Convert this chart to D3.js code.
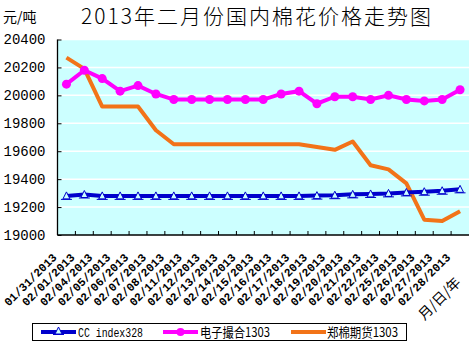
<!DOCTYPE html>
<html><head><meta charset="utf-8">
<script src="https://cdn.jsdelivr.net/npm/d3@7"></script>
<style>body{margin:0;background:#fff}svg{display:block}</style>
</head><body>
<script>
const title = "2013年二月份国内棉花价格走势图";
const yUnit = "元/吨";
const xUnit = "月/日/年";
const dates = ["01/31/2013","02/01/2013","02/04/2013","02/05/2013","02/06/2013","02/07/2013","02/08/2013","02/11/2013","02/12/2013","02/13/2013","02/14/2013","02/15/2013","02/16/2013","02/17/2013","02/18/2013","02/19/2013","02/20/2013","02/21/2013","02/22/2013","02/25/2013","02/26/2013","02/27/2013","02/28/2013"];
const ccIndex = [19280,19290,19280,19280,19280,19280,19280,19280,19280,19280,19280,19280,19280,19280,19282,19285,19291,19294,19298,19305,19310,19317,19327];
const dianzi = [20080,20180,20120,20030,20070,20010,19970,19970,19970,19970,19970,19970,20010,20030,19940,19990,19990,19970,20000,19970,19960,19970,20040];
const zhengmian = [20270,20190,19920,19920,19920,19750,19650,19650,19650,19650,19650,19650,19650,19650,19630,19610,19670,19500,19470,19370,19110,19100,19170];
const yTicks = [19000,19200,19400,19600,19800,20000,20200,20400];
const seriesNames = ["CC index328","电子撮合1303","郑棉期货1303"];

const W=474,H=345;
const m={l:57.5,r:469,t:39.5,b:235};
const svg=d3.select("body").append("svg").attr("width",W).attr("height",H);
const x=d3.scaleBand().domain(dates).range([m.l,m.r]);
const y=d3.scaleLinear().domain([19000,20400]).range([m.b,m.t]);
const cx=d=>x(d)+x.bandwidth()/2;

svg.append("rect").attr("x",m.l).attr("y",m.t).attr("width",m.r-m.l).attr("height",m.b-m.t).attr("fill","#CCFFFF");
svg.append("g").selectAll("line").data(yTicks.slice(1)).join("line")
  .attr("x1",m.l).attr("x2",m.r).attr("y1",d=>y(d)).attr("y2",d=>y(d)).attr("stroke","#fff").attr("stroke-width",1.5);

// axes
const yAxis=d3.axisLeft(y).tickValues(yTicks).tickSize(-4).tickPadding(12).tickFormat(d3.format("d"));
const gy=svg.append("g").attr("transform",`translate(${m.l},0)`).call(yAxis);
gy.select(".domain").remove();
gy.selectAll("line").attr("stroke","#000");
gy.selectAll("text").attr("font-family","Liberation Mono").attr("font-size",14).attr("fill","#000");
svg.append("line").attr("x1",m.l).attr("x2",m.l).attr("y1",m.t).attr("y2",m.b).attr("stroke","#000").attr("stroke-width",1.3);
svg.append("line").attr("x1",m.l).attr("x2",m.r).attr("y1",m.b).attr("y2",m.b).attr("stroke","#000").attr("stroke-width",1.3);
svg.append("g").selectAll("line").data(dates.slice(1)).join("line")
  .attr("x1",d=>x(d)).attr("x2",d=>x(d)).attr("y1",m.b).attr("y2",m.b-4).attr("stroke","#000");

svg.append("g").selectAll("text").data(dates).join("text")
  .attr("transform",d=>`translate(${cx(d)-9},${m.b+23}) rotate(-45)`)
  .attr("text-anchor","end").attr("font-family","Liberation Mono").attr("font-weight","bold")
  .attr("font-size",11.5).text(d=>d);

svg.append("text").attr("x",257).attr("y",24).attr("text-anchor","middle").attr("letter-spacing",2)
  .attr("font-family","Noto Sans CJK SC").attr("font-weight",300).attr("font-size",21).text(title);
svg.append("text").attr("x",3).attr("y",22).attr("font-family","Noto Sans CJK SC").attr("font-size",14).text(yUnit);
svg.append("text").attr("transform","translate(443,302) rotate(-45)").attr("text-anchor","middle")
  .attr("font-family","Noto Sans CJK SC").attr("font-size",14).text(xUnit);

const line=d3.line().x((d,i)=>cx(dates[i])).y(d=>y(d));
const cols=["#0000CC","#FF00FF","#F27318"];
svg.append("path").datum(zhengmian).attr("d",line).attr("fill","none").attr("stroke",cols[2]).attr("stroke-width",4).attr("stroke-linejoin","round");
svg.append("path").datum(dianzi).attr("d",line).attr("fill","none").attr("stroke",cols[1]).attr("stroke-width",4);
svg.append("g").selectAll("circle").data(dianzi).join("circle")
  .attr("cx",(d,i)=>cx(dates[i])).attr("cy",d=>y(d)).attr("r",4.5).attr("fill",cols[1]);
svg.append("path").datum(ccIndex).attr("d",line).attr("fill","none").attr("stroke",cols[0]).attr("stroke-width",4);
function tri(g,px,py){
  g.append("path").attr("d",`M${px-3.5},${py+3}L${px},${py-4}L${px+3.5},${py+3}Z`).attr("fill","#CCFFFF").attr("stroke",cols[0]).attr("stroke-width",1);
  g.append("line").attr("x1",px-5.5).attr("x2",px+5.5).attr("y1",py+3.5).attr("y2",py+3.5).attr("stroke",cols[0]).attr("stroke-width",1);
}
const gm=svg.append("g");
ccIndex.forEach((d,i)=>tri(gm,cx(dates[i]),y(d)));

// legend
const lg=svg.append("g");
lg.append("rect").attr("x",32.5).attr("y",323.5).attr("width",374).attr("height",17).attr("fill","#fff").attr("stroke","#000");
const lx=[[41,76,78,65],[163,198,200,70],[291,326,327,71]];
seriesNames.forEach((n,i)=>{
  const [a,b,t,len]=lx[i];
  lg.append("line").attr("x1",a).attr("x2",b).attr("y1",332).attr("y2",332).attr("stroke",cols[i]).attr("stroke-width",4);
  if(i===1) lg.append("circle").attr("cx",(a+b)/2).attr("cy",332).attr("r",4).attr("fill",cols[1]);
  if(i===0) tri(lg,(a+b)/2,331);
  lg.append("text").attr("x",t).attr("y",337).attr("font-family",i===0?"Liberation Mono":"Noto Sans CJK SC, Liberation Mono")
    .attr("font-size",13).attr("textLength",len).attr("lengthAdjust","spacingAndGlyphs").text(n);
});
</script>
</body></html>
